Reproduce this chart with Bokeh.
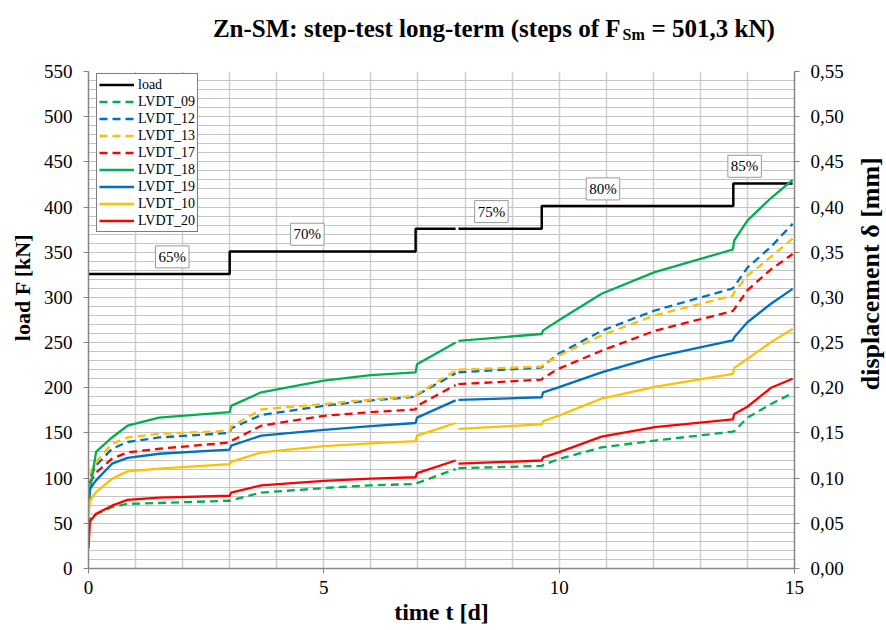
import math
import numpy as np
from bokeh.plotting import figure
from bokeh.layouts import column, row
from bokeh.core.properties import value
from bokeh.models import (Range1d, LinearAxis, FixedTicker, Label, Legend,
                          LegendItem)
from bokeh.embed import file_html
from bokeh.resources import INLINE

nan = float("nan")

# ---- load steps (fractions of the mean ultimate load F_Sm) ----
F_SM = 501.3                                   # kN
step_pct = [65, 70, 75, 80, 85]                # % of F_Sm
step_start = [0.0, 3.0, 6.95, 9.63, 13.70]     # d
t_end = 14.96                                  # d
t_gap = (7.80, 7.86)                           # logger interruption, d

# ---- displacement readings [mm] ----
t = [0.0, 0.03, 0.16, 0.5, 0.83, 1.5, 3.0, 3.03, 3.67, 5.0, 6.0, 6.95, 6.98,
     7.80, nan, 7.86, 9.63, 9.66, 9.985, 10.9, 12.03, 13.69, 13.72, 14.0,
     14.5, 14.96]
lvdt_09 = [0.048, 0.055, 0.060, 0.068, 0.0715, 0.0725, 0.075, 0.0755, 0.084,
           0.089, 0.092, 0.0935, 0.0945, 0.110, nan, 0.111, 0.1135, 0.1145,
           0.121, 0.134, 0.1415, 0.1515, 0.152, 0.167, 0.182, 0.194]
lvdt_12 = [0.088, 0.100, 0.114, 0.1325, 0.140, 0.145, 0.150, 0.155, 0.170,
           0.180, 0.186, 0.190, 0.192, 0.216, nan, 0.217, 0.2225, 0.224,
           0.2375, 0.263, 0.2855, 0.310, 0.312, 0.333, 0.356, 0.3815]
lvdt_13 = [0.090, 0.104, 0.118, 0.138, 0.145, 0.149, 0.1525, 0.157, 0.176,
           0.182, 0.187, 0.191, 0.193, 0.219, nan, 0.220, 0.2235, 0.225,
           0.2355, 0.258, 0.280, 0.302, 0.306, 0.324, 0.345, 0.365]
lvdt_17 = [0.080, 0.095, 0.106, 0.1215, 0.1285, 0.1325, 0.1395, 0.141, 0.158,
           0.169, 0.173, 0.176, 0.180, 0.203, nan, 0.204, 0.209, 0.211,
           0.221, 0.241, 0.263, 0.285, 0.287, 0.308, 0.331, 0.348]
lvdt_18 = [0.067, 0.085, 0.129, 0.145, 0.158, 0.167, 0.173, 0.180, 0.195,
           0.208, 0.214, 0.217, 0.226, 0.250, nan, 0.252, 0.2595, 0.2635,
           0.2745, 0.304, 0.328, 0.353, 0.363, 0.385, 0.410, 0.430]
lvdt_19 = [0.072, 0.088, 0.0975, 0.116, 0.1225, 0.127, 0.1315, 0.136, 0.147,
           0.1535, 0.1575, 0.161, 0.167, 0.186, nan, 0.1865, 0.1895, 0.195,
           0.2005, 0.217, 0.234, 0.2525, 0.256, 0.2725, 0.293, 0.3095]
lvdt_10 = [0.057, 0.075, 0.0845, 0.0995, 0.1075, 0.1105, 0.1155, 0.118,
           0.1285, 0.1355, 0.1385, 0.141, 0.147, 0.161, nan, 0.1545, 0.1595,
           0.163, 0.169, 0.188, 0.201, 0.2155, 0.222, 0.232, 0.2505, 0.265]
lvdt_20 = [0.022, 0.052, 0.0605, 0.0695, 0.076, 0.0785, 0.0805, 0.084, 0.092,
           0.097, 0.0995, 0.101, 0.1055, 0.1195, nan, 0.116, 0.1195, 0.123,
           0.1285, 0.146, 0.1565, 0.165, 0.171, 0.179, 0.200, 0.210]

# ---- axes ----
x_ticks = [0, 5, 10, 15]
y_ticks = list(range(0, 551, 50))
y2_ticks = [v / 1000 for v in y_ticks]
y2_tick_labels = {v: f"{v:.2f}".replace(".", ",") for v in y2_ticks}

SERIF = "Liberation Serif"
GREEN, BLUE, YELLOW, RED = "#00b050", "#0070c0", "#ffc000", "#ff0000"
AXIS_GREY = "#868686"

# page geometry (px)
W, H = 886, 630
TITLE_H = 50
LEFT_W, RIGHT_W = 40, 40
MAIN_W, MAIN_H = W - LEFT_W - RIGHT_W, H - TITLE_H


def text_panel(w, h):
    """Blank figure used only to carry text outside the plot frame."""
    f = figure(width=w, height=h, x_range=Range1d(0, w), y_range=Range1d(0, h),
               output_backend="svg", toolbar_location=None, title=None,
               min_border=0, x_axis_type=None, y_axis_type=None)
    f.outline_line_color = None
    f.xgrid.visible = False
    f.ygrid.visible = False
    return f


p = figure(width=MAIN_W, height=MAIN_H, title=None,
           x_range=Range1d(0, 15), y_range=Range1d(0, 550),
           output_backend="svg", toolbar_location=None,
           min_border_left=48, min_border_right=49,
           min_border_top=21, min_border_bottom=62)
p.outline_line_color = None
p.background_fill_color = "white"
p.extra_y_ranges = {"disp": Range1d(0, 0.55)}

# grid: 1 d vertical, 10 kN horizontal
p.xgrid.ticker = FixedTicker(ticks=list(range(0, 16)))
p.ygrid.ticker = FixedTicker(ticks=list(range(0, 551, 10)))
p.xgrid.grid_line_color = "#cfcfcf"
p.xgrid.grid_line_width = 1.5
p.ygrid.grid_line_color = "#c4c4c4"
p.ygrid.grid_line_width = 1


def style_axis(ax, standoff):
    ax.axis_line_color = AXIS_GREY
    ax.axis_line_width = 1.5
    ax.major_tick_line_color = AXIS_GREY
    ax.major_tick_out = 5
    ax.major_tick_in = 0
    ax.minor_tick_out = 0
    ax.minor_tick_in = 0
    ax.major_label_text_font = SERIF
    ax.major_label_text_font_size = "19px"
    ax.major_label_text_color = "black"
    ax.major_label_standoff = standoff
    ax.axis_label_text_font = SERIF
    ax.axis_label_text_font_style = "bold"
    ax.axis_label_text_color = "black"


xax = p.xaxis[0]
xax.ticker = FixedTicker(ticks=x_ticks)
style_axis(xax, 7)
xax.axis_label = "time t [d]"
xax.axis_label_text_font_size = "24px"
xax.axis_label_standoff = 2

yax = p.yaxis[0]
yax.ticker = FixedTicker(ticks=y_ticks)
style_axis(yax, 11)

y2ax = LinearAxis(y_range_name="disp")
y2ax.ticker = FixedTicker(ticks=y2_ticks)
y2ax.major_label_overrides = y2_tick_labels
style_axis(y2ax, 11)
p.add_layout(y2ax, "right")

# ---- load path built from the step table ----
load_t, load_F = [], []
for i, (ts, pct) in enumerate(zip(step_start, step_pct)):
    level = F_SM * pct / 100
    te = step_start[i + 1] if i + 1 < len(step_start) else t_end
    if ts < t_gap[0] < te:
        load_t += [ts, t_gap[0], nan, t_gap[1], te]
        load_F += [level, level, nan, level, level]
    else:
        load_t += [ts, te]
        load_F += [level, level]

r_load = p.line(load_t, load_F, line_color="black", line_width=2.5)

series = [
    ("LVDT_09", lvdt_09, GREEN, "dashed"),
    ("LVDT_12", lvdt_12, BLUE, "dashed"),
    ("LVDT_13", lvdt_13, YELLOW, "dashed"),
    ("LVDT_17", lvdt_17, RED, "dashed"),
    ("LVDT_18", lvdt_18, GREEN, "solid"),
    ("LVDT_19", lvdt_19, BLUE, "solid"),
    ("LVDT_10", lvdt_10, YELLOW, "solid"),
    ("LVDT_20", lvdt_20, RED, "solid"),
]

items = [LegendItem(label="load", renderers=[r_load])]
for name, vals, color, style in series:
    dash = "8 5" if style == "dashed" else "solid"
    r = p.line(np.array(t), np.array(vals), y_range_name="disp",
               line_color=color, line_width=2.3, line_dash=dash)
    items.append(LegendItem(label=name, renderers=[r]))

legend = Legend(items=items, location=(8, 336))
legend.label_text_font = SERIF
legend.label_text_font_size = "14px"
legend.label_text_color = "black"
legend.label_standoff = 4
legend.glyph_width = 35
legend.glyph_height = 17
legend.label_height = 17
legend.spacing = 0
legend.padding = 2
legend.margin = 0
legend.border_line_color = "black"
legend.border_line_width = 1
legend.background_fill_color = "white"
legend.background_fill_alpha = 1
p.add_layout(legend)

# ---- step annotations ----
label_t = [1.78, 4.65, 8.56, 10.93, 13.94]
label_lift = 19
for lt, pct in zip(label_t, step_pct):
    p.add_layout(Label(x=lt, y=F_SM * pct / 100 + label_lift, text=f"{pct}%",
                       text_font=SERIF, text_font_size="15px",
                       text_color="black",
                       text_align="center", text_baseline="middle",
                       border_line_color="#9a9a9a", border_line_width=1,
                       background_fill_color="white", padding=3))

# ---- title with subscript ----
title_fig = text_panel(W, TITLE_H)
bold = dict(text_font=value(SERIF), text_font_style="bold",
            text_color="black")
title_fig.text(x=[620], y=[22], text=["Zn-SM: step-test long-term (steps of F"],
               text_align="right", text_baseline="alphabetic",
               text_font_size="25px", **bold)
title_fig.text(x=[622], y=[16], text=["Sm"], text_align="left",
               text_baseline="alphabetic", text_font_size="16px", **bold)
title_fig.text(x=[651], y=[22], text=["= 501,3 kN)"], text_align="left",
               text_baseline="alphabetic", text_font_size="25px", **bold)

# ---- vertical axis titles ----
left_fig = text_panel(LEFT_W, MAIN_H)
left_fig.text(x=[22], y=[MAIN_H - 252], text=["load F [kN]"], angle=math.pi / 2,
              text_align="center", text_baseline="middle",
              text_font_size="22px", **bold)

right_fig = text_panel(RIGHT_W, MAIN_H)
right_fig.text(x=[24], y=[MAIN_H - 236], text=["displacement δ [mm]"],
               angle=math.pi / 2, text_align="center", text_baseline="middle",
               text_font_size="26px", **bold)

page = column(title_fig, row(left_fig, p, right_fig, spacing=0), spacing=0)

open("out.html", "w").write(file_html(page, INLINE))
